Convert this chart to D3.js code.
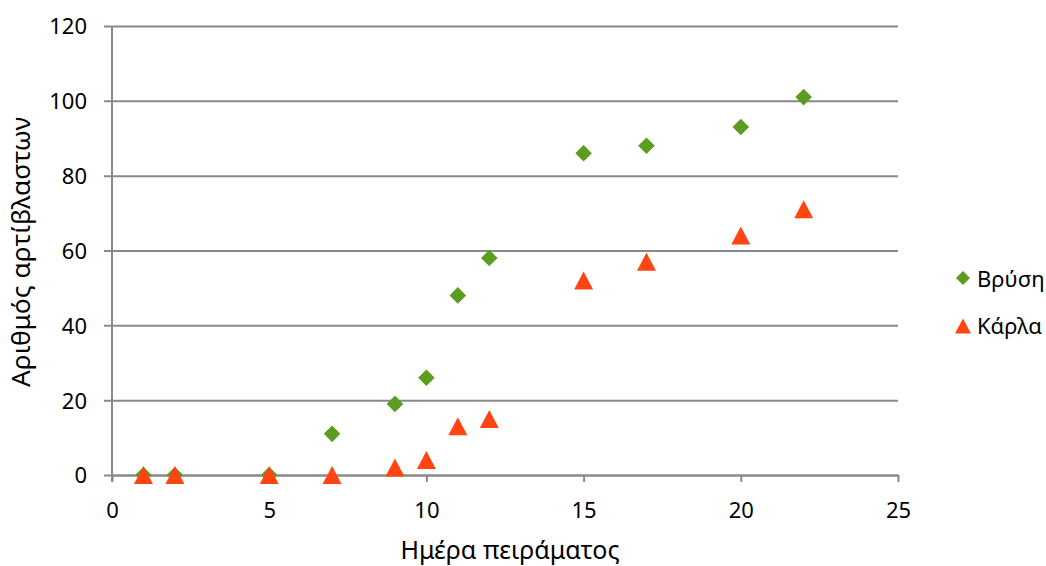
<!DOCTYPE html>
<html>
<head>
<meta charset="utf-8">
<script src="https://cdn.jsdelivr.net/npm/d3@7"></script>
<style>
  body { margin: 0; background: #fff; }
  svg text { font-family: "Noto Sans", "Open Sans", sans-serif; fill: #000; }
</style>
</head>
<body>
<svg id="chart" width="1046" height="566"></svg>
<script>
const days = [1, 2, 5, 7, 9, 10, 11, 12, 15, 17, 20, 22];
const vrysi = [0, 0, 0, 11, 19, 26, 48, 58, 86, 88, 93, 101];
const karla = [0, 0, 0, 0, 2, 4, 13, 15, 52, 57, 64, 71];
const seriesNames = ["Βρύση", "Κάρλα"];
const xTicks = [0, 5, 10, 15, 20, 25];
const yTicks = [0, 20, 40, 60, 80, 100, 120];

const svg = d3.select("#chart");
const plotLeft = 112, plotRight = 898, plotTop = 26, plotBottom = 475;
const gridColor = "#898989";

const x = d3.scaleLinear().domain([0, 25]).range([plotLeft, plotRight]);
const y = d3.scaleLinear().domain([0, 120]).range([plotBottom, plotTop]);

// horizontal gridlines + y axis
const yAxis = svg.append("g")
  .attr("transform", `translate(${plotLeft},0)`)
  .call(d3.axisLeft(y).tickValues(yTicks).tickSize(-(plotRight - plotLeft)).tickSizeOuter(0));
yAxis.attr("font-size", null).attr("font-family", null);
yAxis.select(".domain").remove();
yAxis.selectAll("line")
  .attr("x1", -8)
  .attr("stroke", gridColor).attr("stroke-width", 2);
yAxis.selectAll("text")
  .attr("font-size", 22)
  .attr("x", -25)
  .attr("dy", "0.36em");

// x axis
const xAxis = svg.append("g")
  .attr("transform", `translate(0,${plotBottom})`)
  .call(d3.axisBottom(x).tickValues(xTicks).tickSize(7).tickSizeOuter(0));
xAxis.attr("font-size", null).attr("font-family", null);
xAxis.select(".domain").attr("stroke", gridColor).attr("stroke-width", 2);
xAxis.selectAll("line").attr("stroke", gridColor).attr("stroke-width", 2);
xAxis.selectAll("text")
  .attr("font-size", 22)
  .attr("y", 35)
  .attr("dy", "0.36em");

// vertical axis line
svg.append("line")
  .attr("x1", plotLeft).attr("x2", plotLeft)
  .attr("y1", plotTop).attr("y2", plotBottom + 7)
  .attr("stroke", gridColor).attr("stroke-width", 2);

const green = "#5B9E1F", orange = "#FF4612";

// Excel-like triangle: w wide, h tall, centred on its box
const triangleType = (w, h) => ({
  draw(ctx) {
    ctx.moveTo(0, -h / 2);
    ctx.lineTo(w / 2, h / 2);
    ctx.lineTo(-w / 2, h / 2);
    ctx.closePath();
  }
});

const diamond = d3.symbol().type(d3.symbolDiamond2).size(175);
const triangle = d3.symbol().type(triangleType(19, 18));

const vrysiPts = days.map((d, i) => ({ x: d, y: vrysi[i] }));
const karlaPts = days.map((d, i) => ({ x: d, y: karla[i] }));

svg.append("g").selectAll("path")
  .data(vrysiPts)
  .join("path")
  .attr("d", diamond)
  .attr("fill", green)
  .attr("transform", d => `translate(${x(d.x)},${y(d.y)})`);

svg.append("g").selectAll("path")
  .data(karlaPts)
  .join("path")
  .attr("d", triangle)
  .attr("fill", orange)
  .attr("transform", d => `translate(${x(d.x)},${y(d.y)})`);

// axis titles
svg.append("text")
  .attr("x", 510).attr("y", 559)
  .attr("text-anchor", "middle")
  .attr("font-size", 25)
  .text("Ημέρα πειράματος");

svg.append("text")
  .attr("transform", `translate(30,252) rotate(-90)`)
  .attr("text-anchor", "middle")
  .attr("font-size", 25)
  .attr("textLength", 270)
  .attr("lengthAdjust", "spacingAndGlyphs")
  .text("Αριθμός αρτίβλαστων");

// legend
const legend = svg.append("g");
const legendItems = [
  { name: seriesNames[0], sym: d3.symbol().type(d3.symbolDiamond2).size(125), color: green, cy: 278, base: 287 },
  { name: seriesNames[1], sym: d3.symbol().type(triangleType(16, 15)), color: orange, cy: 326, base: 334 }
];
legendItems.forEach(it => {
  legend.append("path")
    .attr("d", it.sym)
    .attr("fill", it.color)
    .attr("transform", `translate(963,${it.cy})`);
  legend.append("text")
    .attr("x", 977).attr("y", it.base)
    .attr("font-size", 22)
    .text(it.name);
});
</script>
</body>
</html>
